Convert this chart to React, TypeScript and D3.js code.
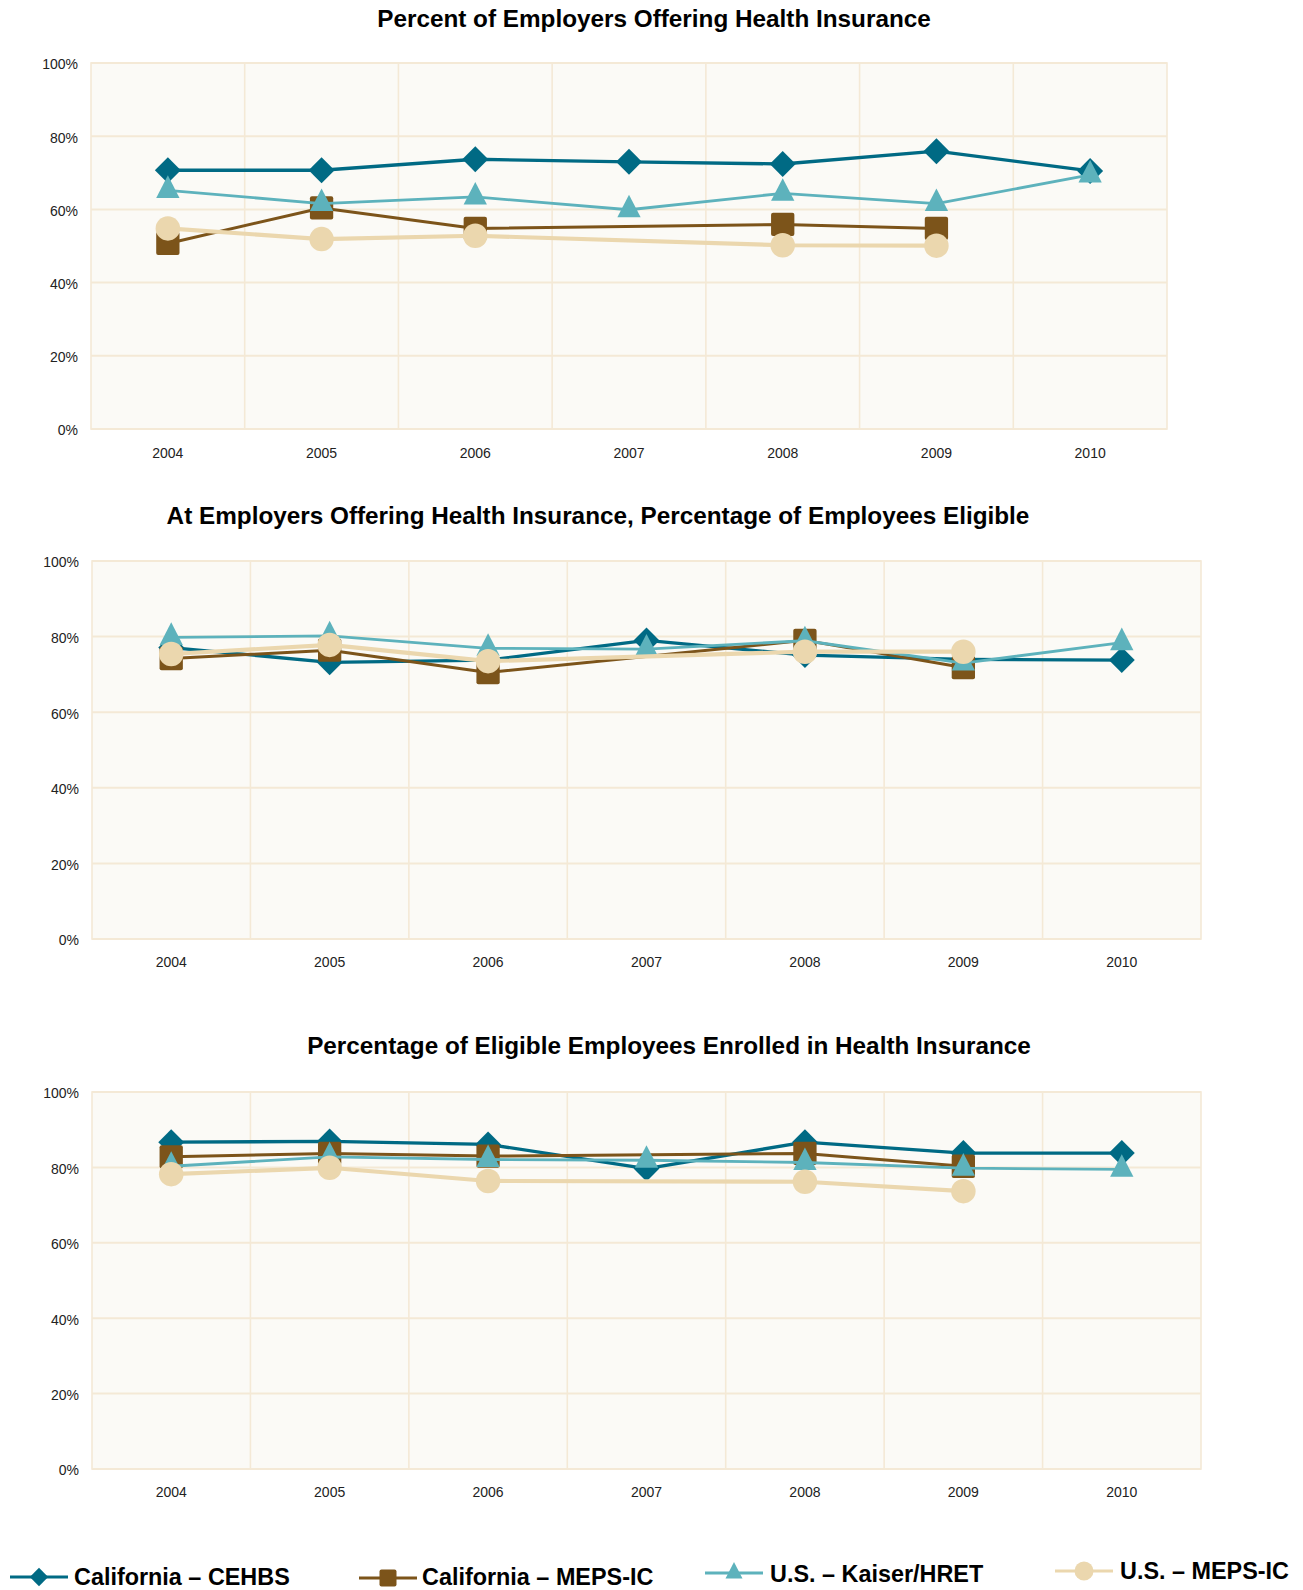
import React from "react";
import * as d3 from "d3";

// ---------- DATA ----------
const years = ["2004", "2005", "2006", "2007", "2008", "2009", "2010"];
const yTicks = [0, 20, 40, 60, 80, 100];

const seriesNames = [
  "California – CEHBS",
  "California – MEPS-IC",
  "U.S. – Kaiser/HRET",
  "U.S. – MEPS-IC",
];

const chartTitles = [
  "Percent of Employers Offering Health Insurance",
  "At Employers Offering Health Insurance, Percentage of Employees Eligible",
  "Percentage of Eligible Employees Enrolled in Health Insurance",
];

// Chart 1: Percent of employers offering
const offerCEHBS = [70.7, 70.7, 73.7, 73.0, 72.4, 75.9, 70.5];
const offerMepsCA = [50.7, 60.4, 54.8, null, 55.9, 54.8, null];
const offerKaiser = [65.2, 61.6, 63.4, 59.9, 64.4, 61.6, 69.4];
const offerMepsUS = [54.8, 51.9, 52.8, null, 50.2, 50.1, null];

// Chart 2: Percentage eligible
const eligCEHBS = [77.1, 73.2, 73.8, 79.0, 75.1, 74.0, 73.8];
const eligMepsCA = [74.2, 76.4, 70.5, null, 79.0, 71.8, null];
const eligKaiser = [79.8, 80.2, 76.9, 76.7, 78.9, 73.0, 78.4];
const eligMepsUS = [75.4, 77.8, 73.5, null, 76.0, 76.0, null];

// Chart 3: Percentage enrolled
const enrCEHBS = [86.7, 86.9, 86.1, 79.7, 86.7, 83.8, 83.8];
const enrMepsCA = [82.8, 83.7, 83.0, null, 83.7, 80.3, null];
const enrKaiser = [80.3, 82.8, 82.1, 81.9, 81.3, 79.8, 79.5];
const enrMepsUS = [78.2, 79.9, 76.4, null, 76.2, 73.7, null];

const chartData = [
  [offerCEHBS, offerMepsCA, offerKaiser, offerMepsUS],
  [eligCEHBS, eligMepsCA, eligKaiser, eligMepsUS],
  [enrCEHBS, enrMepsCA, enrKaiser, enrMepsUS],
];

// ---------- STYLE / LAYOUT ----------
const colors = ["#006A84", "#7C541A", "#5DB2BC", "#EBD7AE"];
const strokeWidths = [3.3, 3, 2.8, 4.2];
const markerTypes = ["diamond", "square", "triangle", "circle"];

const layouts = [
  { titleX: 654, titleY: 18, left: 91, right: 1167, top: 63, bottom: 429, labelY: 453 },
  { titleX: 598, titleY: 515, left: 92, right: 1201, top: 561, bottom: 939, labelY: 962 },
  { titleX: 669, titleY: 1045, left: 92, right: 1201, top: 1092, bottom: 1469, labelY: 1492 },
];

const legendLayout = [
  { x1: 10, x2: 68, y: 1577, tx: 74, ty: 1585 },
  { x1: 359, x2: 417, y: 1578, tx: 422, ty: 1585 },
  { x1: 705, x2: 763, y: 1573, tx: 770, ty: 1582 },
  { x1: 1055, x2: 1113, y: 1571, tx: 1120, ty: 1579 },
];

const FONT = "'Liberation Sans', Arial, Helvetica, sans-serif";
const GRID = "#F4E9D6";
const BG = "#FBFAF6";

function markerPath(type: string, s: number): string {
  const h = s / 2;
  switch (type) {
    case "diamond":
      return `M0,${-h * 1.08}L${h * 1.08},0L0,${h * 1.08}L${-h * 1.08},0Z`;
    case "square": {
      const r = 2;
      return `M${-h + r},${-h}H${h - r}Q${h},${-h} ${h},${-h + r}V${h - r}Q${h},${h} ${h - r},${h}H${-h + r}Q${-h},${h} ${-h},${h - r}V${-h + r}Q${-h},${-h} ${-h + r},${-h}Z`;
    }
    case "triangle": {
      const th = s * 0.97;
      return `M0,${(-2 * th) / 3}L${h},${th / 3}L${-h},${th / 3}Z`;
    }
    default:
      return "";
  }
}

function Marker({ type, x, y, size, color }: any) {
  if (type === "circle") {
    return <circle cx={x} cy={y} r={size / 2} fill={color} />;
  }
  return <path d={markerPath(type, size)} transform={`translate(${x},${y})`} fill={color} />;
}

function Chart({ idx }: { idx: number }) {
  const L = layouts[idx];
  const band = d3.scaleBand<string>().domain(years).range([L.left, L.right]).padding(0);
  const x = (yr: string) => (band(yr) as number) + band.bandwidth() / 2;
  const y = d3.scaleLinear().domain([0, 100]).range([L.bottom, L.top]);
  const data = chartData[idx];

  return (
    <g>
      <text
        x={L.titleX}
        y={L.titleY}
        dy="0.36em"
        textAnchor="middle"
        fontFamily={FONT}
        fontWeight="bold"
        fontSize={24.3}
        fill="#000"
      >
        {chartTitles[idx]}
      </text>
      <rect x={L.left} y={L.top} width={L.right - L.left} height={L.bottom - L.top} fill={BG} />
      {years.slice(1).map((yr) => (
        <line
          key={"v" + yr}
          x1={band(yr)}
          x2={band(yr)}
          y1={L.top}
          y2={L.bottom}
          stroke={GRID}
          strokeWidth={1.6}
        />
      ))}
      {yTicks.map((t) => (
        <line key={"h" + t} x1={L.left} x2={L.right} y1={y(t)} y2={y(t)} stroke={GRID} strokeWidth={2} />
      ))}
      <rect
        x={L.left}
        y={L.top}
        width={L.right - L.left}
        height={L.bottom - L.top}
        fill="none"
        stroke={GRID}
        strokeWidth={1.6}
      />
      {yTicks.map((t) => (
        <text
          key={"yl" + t}
          x={L.left - 13}
          y={y(t) + 1.5}
          dy="0.35em"
          textAnchor="end"
          fontFamily={FONT}
          fontSize={14}
          fill="#222"
        >
          {t + "%"}
        </text>
      ))}
      {years.map((yr) => (
        <text
          key={"xl" + yr}
          x={x(yr)}
          y={L.labelY}
          dy="0.35em"
          textAnchor="middle"
          fontFamily={FONT}
          fontSize={14}
          fill="#222"
        >
          {yr}
        </text>
      ))}
      {data.map((vals, si) => {
        const pts = years
          .map((yr, i) => ({ yr, v: vals[i] }))
          .filter((p) => p.v !== null && p.v !== undefined) as { yr: string; v: number }[];
        const line = d3
          .line<{ yr: string; v: number }>()
          .x((p) => x(p.yr))
          .y((p) => y(p.v));
        return (
          <g key={"s" + si}>
            <path
              d={line(pts) || ""}
              fill="none"
              stroke={colors[si]}
              strokeWidth={strokeWidths[si]}
              strokeLinejoin="round"
            />
            {pts.map((p) => (
              <Marker
                key={p.yr}
                type={markerTypes[si]}
                x={x(p.yr)}
                y={y(p.v)}
                size={markerTypes[si] === "circle" ? 24.5 : markerTypes[si] === "diamond" ? 24 : 23.3}
                color={colors[si]}
              />
            ))}
          </g>
        );
      })}
    </g>
  );
}

function Legend() {
  return (
    <g>
      {seriesNames.map((name, i) => {
        const lg = legendLayout[i];
        const cx = (lg.x1 + lg.x2) / 2;
        return (
          <g key={name}>
            <line x1={lg.x1} x2={lg.x2} y1={lg.y} y2={lg.y} stroke={colors[i]} strokeWidth={3} />
            <Marker
              type={markerTypes[i]}
              x={cx}
              y={lg.y}
              size={markerTypes[i] === "circle" ? 19 : 17}
              color={colors[i]}
            />
            <text x={lg.tx} y={lg.ty} fontFamily={FONT} fontWeight="bold" fontSize={23.4} fill="#000">
              {name}
            </text>
          </g>
        );
      })}
    </g>
  );
}

export default function App() {
  return (
    <svg
      width={1303}
      height={1590}
      style={{ position: "absolute", left: 0, top: 0, background: "#fff" }}
    >
      <rect x={0} y={0} width={1303} height={1590} fill="#fff" />
      {layouts.map((_, i) => (
        <Chart key={i} idx={i} />
      ))}
      <Legend />
    </svg>
  );
}
